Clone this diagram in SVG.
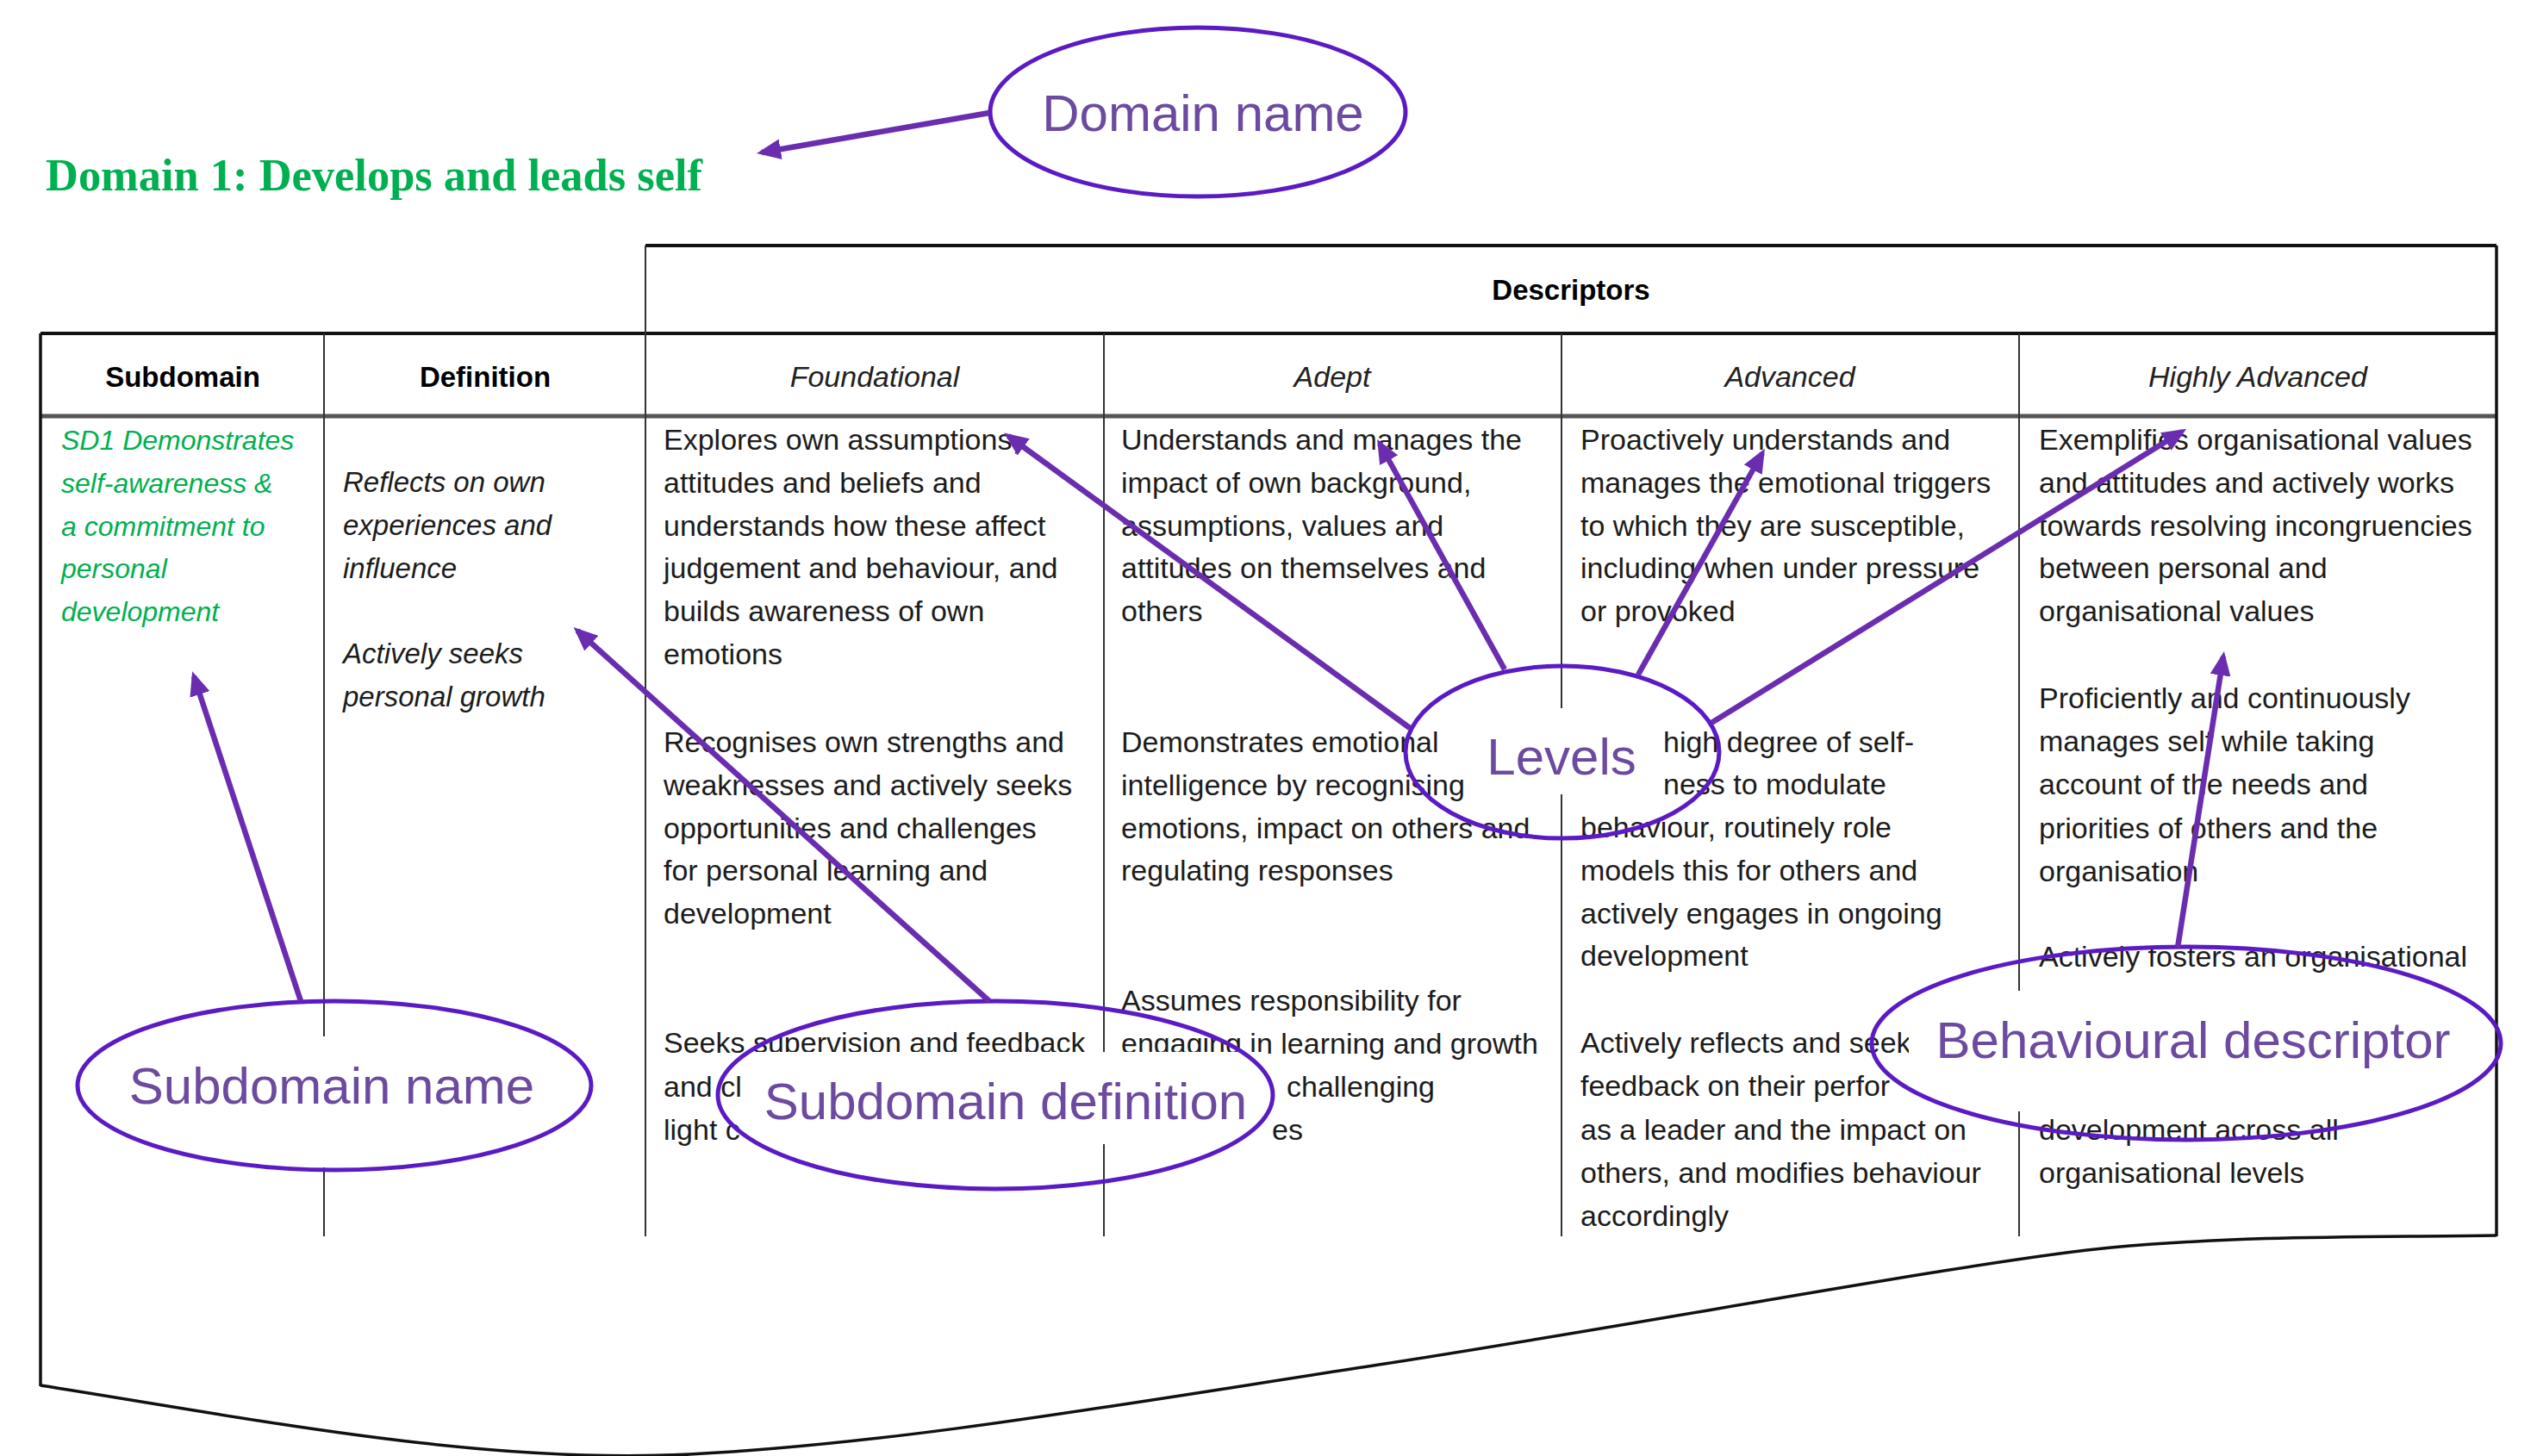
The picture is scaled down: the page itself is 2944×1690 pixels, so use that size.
<svg xmlns="http://www.w3.org/2000/svg" width="2944" height="1690" viewBox="0 0 2944 1690">
<style>
  text { font-family: "Liberation Sans", Arial, sans-serif; }
  .b { font-size: 34px; fill: #1c1c1c; }
  .h { font-size: 33px; font-weight: bold; fill: #000; text-anchor: middle; }
  .hi { font-size: 34px; font-style: italic; fill: #222; text-anchor: middle; }
  .def { font-size: 33px; font-style: italic; fill: #1c1c1c; }
  .sd { font-size: 32px; font-style: italic; fill: #00B050; }
  .lbl { font-size: 60px; fill: #6B4AA0; text-anchor: middle; }
  .title { font-family: "Liberation Serif", "Times New Roman", serif; font-size: 52px; font-weight: bold; fill: #00B050; }
  .outer { stroke: #111; stroke-width: 3.5; fill: none; }
  .thick { stroke: #111; stroke-width: 4; fill: none; }
  .hdrline { stroke: #555; stroke-width: 5; fill: none; }
  .col { stroke: #333; stroke-width: 2; fill: none; }
  .ell { fill: none; stroke: #5B1BC4; stroke-width: 5; }
  .box { fill: #fff; stroke: none; }
  .arrow { stroke: #6A2DB0; stroke-width: 6.5; fill: none; marker-end: url(#ah); }
</style>
<defs>
  <marker id="ah" viewBox="0 0 28 24" refX="22" refY="12" markerWidth="28" markerHeight="24" markerUnits="userSpaceOnUse" orient="auto">
    <path d="M0,0 L28,12 L0,24 z" fill="#6A2DB0"/>
  </marker>
</defs>
<rect width="2944" height="1690" fill="#fff"/>

<g id="domain-title">
  <text class="title" x="53" y="221" textLength="762" lengthAdjust="spacingAndGlyphs">Domain 1: Develops and leads self</text>
</g>

<g id="table">
  <line class="thick" x1="749" y1="285" x2="2897" y2="285"/>
  <line class="thick" x1="47" y1="387" x2="2897" y2="387"/>
  <line class="hdrline" x1="47" y1="483" x2="2897" y2="483"/>
  <line class="outer" x1="47" y1="387" x2="47" y2="1609"/>
  <line class="outer" x1="2897" y1="285" x2="2897" y2="1435"/>
  <line class="col" x1="749" y1="285" x2="749" y2="1435"/>
  <line class="col" x1="376" y1="387" x2="376" y2="1435"/>
  <line class="col" x1="1281" y1="387" x2="1281" y2="1435"/>
  <line class="col" x1="1812" y1="387" x2="1812" y2="1435"/>
  <line class="col" x1="2343" y1="387" x2="2343" y2="1435"/>
  <path class="outer" d="M47,1608 C300,1648 560,1700 800,1688 S1300,1630 1600,1584 S2300,1462 2450,1448 S2750,1436 2897,1434"/>
  <text class="h" x="1823" y="348">Descriptors</text>
  <text class="h" x="212" y="449">Subdomain</text>
  <text class="h" x="563" y="449">Definition</text>
  <text class="hi" x="1015" y="449">Foundational</text>
  <text class="hi" x="1546" y="449">Adept</text>
  <text class="hi" x="2077" y="449">Advanced</text>
  <text class="hi" x="2620" y="449">Highly Advanced</text>
</g>

<g id="subdomain-cell">
  <text class="sd" x="71" y="522">SD1 Demonstrates<tspan x="71" dy="49.8">self-awareness &amp;</tspan><tspan x="71" dy="49.8">a commitment to</tspan><tspan x="71" dy="49.8">personal</tspan><tspan x="71" dy="49.8">development</tspan></text>
</g>

<g id="definition-cell">
  <text class="def" x="398" y="571">Reflects on own<tspan x="398" dy="49.8">experiences and</tspan><tspan x="398" dy="49.8">influence</tspan></text>
  <text class="def" x="398" y="770">Actively seeks<tspan x="398" dy="49.8">personal growth</tspan></text>
</g>

<g id="foundational-cell">
  <text class="b" x="770" y="522">Explores own assumptions,<tspan x="770" dy="49.8">attitudes and beliefs and</tspan><tspan x="770" dy="49.8">understands how these affect</tspan><tspan x="770" dy="49.8">judgement and behaviour, and</tspan><tspan x="770" dy="49.8">builds awareness of own</tspan><tspan x="770" dy="49.8">emotions</tspan></text>
  <text class="b" x="770" y="873">Recognises own strengths and<tspan x="770" dy="49.8">weaknesses and actively seeks</tspan><tspan x="770" dy="49.8">opportunities and challenges</tspan><tspan x="770" dy="49.8">for personal learning and</tspan><tspan x="770" dy="49.8">development</tspan></text>
  <text class="b" x="770" y="1222">Seeks supervision and feedback<tspan x="770" dy="50.5">and cl</tspan><tspan x="770" dy="50.5">light c</tspan></text>
</g>

<g id="adept-cell">
  <text class="b" x="1301" y="522">Understands and manages the<tspan x="1301" dy="49.8">impact of own background,</tspan><tspan x="1301" dy="49.8">assumptions, values and</tspan><tspan x="1301" dy="49.8">attitudes on themselves and</tspan><tspan x="1301" dy="49.8">others</tspan></text>
  <text class="b" x="1301" y="873">Demonstrates emotional<tspan x="1301" dy="49.8">intelligence by recognising</tspan><tspan x="1301" dy="49.8">emotions, impact on others and</tspan><tspan x="1301" dy="49.8">regulating responses</tspan></text>
  <text class="b" x="1301" y="1173">Assumes responsibility for<tspan x="1301" dy="49.8">engaging in learning and growth</tspan></text>
  <text class="b" x="1493" y="1273">challenging</text>
  <text class="b" x="1476" y="1323">es</text>
</g>

<g id="advanced-cell">
  <text class="b" x="1834" y="522">Proactively understands and<tspan x="1834" dy="49.8">manages the emotional triggers</tspan><tspan x="1834" dy="49.8">to which they are susceptible,</tspan><tspan x="1834" dy="49.8">including when under pressure</tspan><tspan x="1834" dy="49.8">or provoked</tspan></text>
  <text class="b" x="1930" y="873">high degree of self-</text>
  <text class="b" x="1930" y="922">ness to modulate</text>
  <text class="b" x="1834" y="972">behaviour, routinely role<tspan x="1834" dy="49.8">models this for others and</tspan><tspan x="1834" dy="49.8">actively engages in ongoing</tspan><tspan x="1834" dy="49.8">development</tspan></text>
  <text class="b" x="1834" y="1222">Actively reflects and seek<tspan x="1834" dy="50.3">feedback on their perfor</tspan><tspan x="1834" dy="50.3">as a leader and the impact on</tspan><tspan x="1834" dy="50.3">others, and modifies behaviour</tspan><tspan x="1834" dy="50.3">accordingly</tspan></text>
</g>

<g id="highly-advanced-cell">
  <text class="b" x="2366" y="522">Exemplifies organisational values<tspan x="2366" dy="49.8">and attitudes and actively works</tspan><tspan x="2366" dy="49.8">towards resolving incongruencies</tspan><tspan x="2366" dy="49.8">between personal and</tspan><tspan x="2366" dy="49.8">organisational values</tspan></text>
  <text class="b" x="2366" y="822">Proficiently and continuously<tspan x="2366" dy="50.2">manages self while taking</tspan><tspan x="2366" dy="50.2">account of the needs and</tspan><tspan x="2366" dy="50.2">priorities of others and the</tspan><tspan x="2366" dy="50.2">organisation</tspan></text>
  <text class="b" x="2366" y="1122">Actively fosters an organisational</text>
  <text class="b" x="2366" y="1323">development across all<tspan x="2366" dy="50">organisational levels</tspan></text>
</g>

<g id="ann-domain-name">
  <ellipse class="ell" cx="1390" cy="130" rx="241" ry="98"/>
  <text class="lbl" x="1396" y="152">Domain name</text>
</g>

<g id="ann-subdomain-name">
  <rect class="box" x="110" y="1203" width="560" height="152"/>
  <ellipse class="ell" cx="388" cy="1260" rx="298" ry="98"/>
  <text class="lbl" x="385" y="1281">Subdomain name</text>
</g>

<g id="ann-subdomain-definition">
  <rect class="box" x="865" y="1221" width="605" height="107"/>
  <ellipse class="ell" cx="1155" cy="1271" rx="322" ry="109"/>
  <text class="lbl" x="1167" y="1299">Subdomain definition</text>
</g>

<g id="ann-levels">
  <rect class="box" x="1703" y="822" width="219" height="100"/>
  <ellipse class="ell" cx="1813" cy="873" rx="182" ry="100"/>
  <text class="lbl" x="1812" y="899">Levels</text>
</g>

<g id="ann-behavioural-descriptor">
  <rect class="box" x="2215" y="1150" width="670" height="140"/>
  <ellipse class="ell" cx="2537" cy="1211" rx="365" ry="112"/>
  <text class="lbl" x="2545" y="1228">Behavioural descriptor</text>
</g>

<g id="connectors">
  <line class="arrow" x1="1148" y1="131" x2="884" y2="177"/>
  <line class="arrow" x1="349" y1="1162" x2="225" y2="785"/>
  <line class="arrow" x1="1148" y1="1162" x2="670" y2="732"/>
  <line class="arrow" x1="1636" y1="845" x2="1170" y2="506"/>
  <line class="arrow" x1="1746" y1="777" x2="1601" y2="515"/>
  <line class="arrow" x1="1901" y1="783" x2="2045" y2="526"/>
  <line class="arrow" x1="1986" y1="839" x2="2532" y2="501"/>
  <line class="arrow" x1="2527" y1="1100" x2="2580" y2="762"/>
</g>
</svg>
